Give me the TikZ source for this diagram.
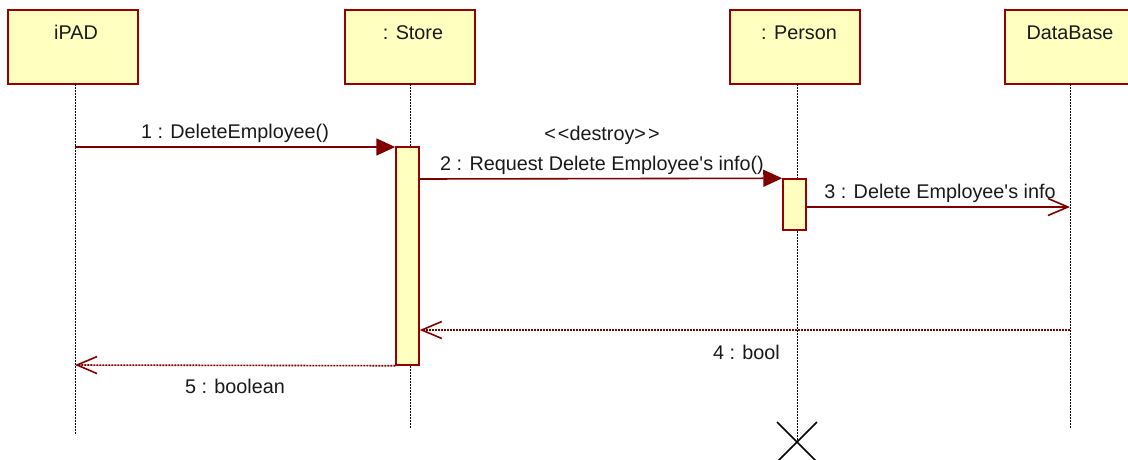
\documentclass[tikz,border=0pt]{standalone}
\usepackage{fontspec}
\setmainfont{Liberation Sans}
\usetikzlibrary{arrows.meta}
\definecolor{boxfill}{HTML}{FFFFC0}
\definecolor{boxdraw}{HTML}{990000}
\definecolor{msgcol}{HTML}{800000}
\begin{document}
\begin{tikzpicture}[x=1pt,y=-1pt,
  font=\fontsize{19.8}{23}\selectfont,
  obj/.style={draw=boxdraw, fill=boxfill, line width=1.8pt, minimum width=130pt, minimum height=74pt, inner sep=0pt},
  act/.style={draw=boxdraw, fill=boxfill, line width=1.5pt, minimum width=23pt, inner sep=0pt},
  life/.style={black, line width=1pt, dash pattern=on 2pt off 1pt},
  lbl/.style={anchor=base, inner sep=0pt, text=black!90},
  syncmsg/.style={msgcol, line width=1.6pt, -{Triangle[length=19pt,width=17pt]}},
  asyncmsg/.style={msgcol, line width=1.6pt, -{Straight Barb[length=20pt,width=17pt,line width=1.6pt]}},
  retmsg/.style={msgcol, line width=1.6pt, dash pattern=on 2pt off 1pt, -{Straight Barb[length=20pt,width=17pt,line width=1.6pt]}},
  destroyx/.style={black, line width=1.5pt}]
\clip (0,0) rectangle (1128,459);
% lifeline ends
\coordinate (eI) at (75,435);
\coordinate (eS) at (410,428);
\coordinate (eP) at (797,441);
\coordinate (eD) at (1070,428);
% objects
\node[obj] (ipad) at (73,47) {};
\node[obj] (store) at (410,47) {};
\node[obj] (person) at (795,47) {};
\node[obj] (db) at (1070,47) {};
\node[lbl] (tI) at (76,39) {iPAD};
\node[lbl] (tS) at (413,39) {: Store};
\node[lbl] (tP) at (799,39) {: Person};
\node[lbl] (tD) at (1070,39) {DataBase};
% lifelines
\draw[life] (75,84) -- (eI);
\draw[life] (410,84) -- (eS);
\draw[life] (797,84) -- (eP);
\draw[life] (1070,84) -- (eD);
% activations
\node[act, minimum height=218pt] (aS) at (407.5,256) {};
\node[act, minimum height=51pt] (aP) at (794.5,204.5) {};
% messages
\coordinate (m1) at (75,147);
\draw[syncmsg] (m1) -- (m1 -| aS.west);
\node[lbl] (l1) at (235,138) {1 : DeleteEmployee()};
\coordinate (m2) at (aS.east |- 0,179);
\draw[syncmsg] (m2) -- (aP.north west);
\node[lbl] (ld) at (602,140) {<\kern2pt<destroy>\kern2pt>};
\node[lbl] (l2) at (602,170) {2 : Request Delete Employee\textquotesingle s info()};
\coordinate (m3) at (aP.east |- 0,207);
\coordinate (m3e) at (1070,207);
\draw[asyncmsg] (m3) -- (m3e);
\node[lbl] (l3) at (940,198) {3 : Delete Employee\textquotesingle s info};
\coordinate (m4) at (1070,330);
\draw[retmsg] (m4) -- (m4 -| aS.east);
\node[lbl, anchor=base east] (l4) at (780,359) {4 : bool};
\coordinate (m5) at (75,365);
\draw[retmsg] (aS.south west) -- (m5);
\node[lbl] (l5) at (235,393) {5 : boolean};
% destruction mark
\draw[destroyx] (eP) ++(-20,-19) -- ++(40,40);
\draw[destroyx] (eP) ++(20,-19) -- ++(-40,40);
\end{tikzpicture}
\end{document}
